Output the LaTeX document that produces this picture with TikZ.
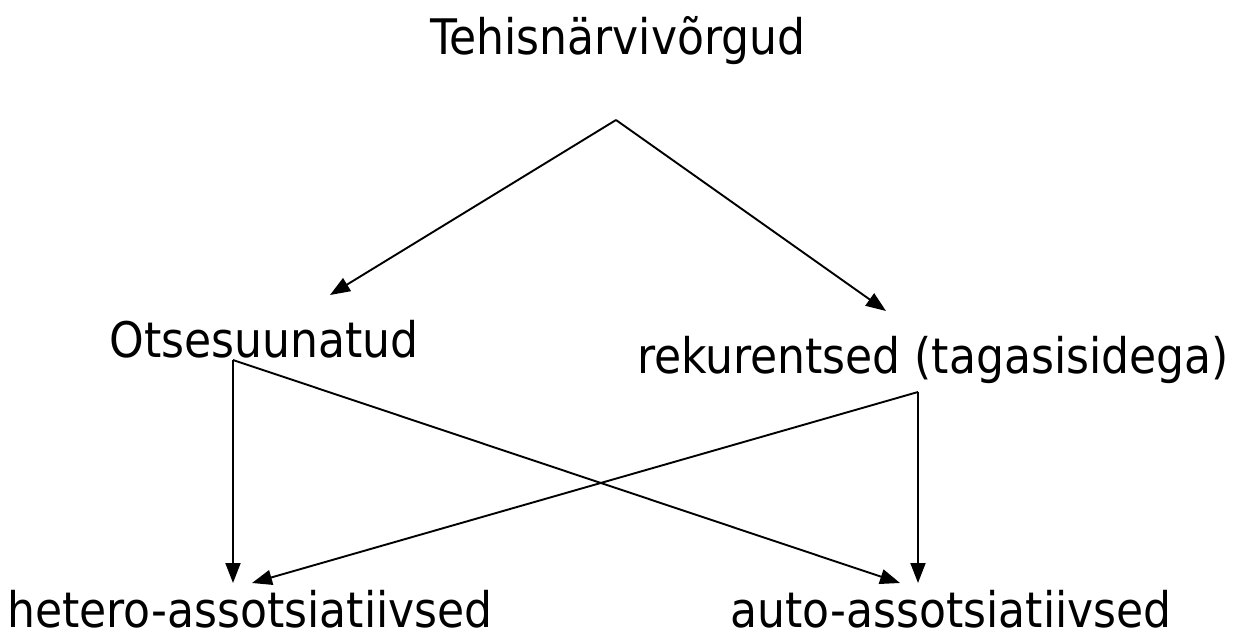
\documentclass[tikz,border=0pt]{standalone}
\usepackage{fontspec}
\setmainfont{DejaVu Sans Condensed}
\usetikzlibrary{arrows.meta}
\begin{document}
\begin{tikzpicture}[x=1pt,y=1pt,
  lbl/.style={inner sep=0pt,anchor=base,font=\fontsize{49}{57}\selectfont},
  conn/.style={line width=1.9pt,-{Triangle[length=20pt,width=15pt]}}]
\useasboundingbox[fill=white] (0,0) rectangle (1240,633);
\node[lbl] (t) at (618,578) {Tehisnärvivõrgud};
\node[lbl] (o) at (264,276) {Otsesuunatud};
\node[lbl] (r) at (933,260) {rekurentsed (tagasisidega)};
\node[lbl,text depth=0pt] (h) at (250,6) {hetero-assotsiatiivsed};
\node[lbl,text depth=0pt] (a) at (951,6) {auto-assotsiatiivsed};
\coordinate (apex) at (616,513);
\coordinate (ot) at (330,338);
\coordinate (rt) at (886,322);
\coordinate (os) at (233,273);
\coordinate (rs) at (918,241);
\coordinate (hv) at (233,50);
\coordinate (hd) at (252,50);
\coordinate (av) at (918,50);
\coordinate (ad) at (900,50);
\draw[conn] (apex) -- (ot);
\draw[conn] (apex) -- (rt);
\draw[conn] (os) -- (hv);
\draw[conn] (os) -- (ad);
\draw[conn] (rs) -- (av);
\draw[conn] (rs) -- (hd);
\end{tikzpicture}
\end{document}
